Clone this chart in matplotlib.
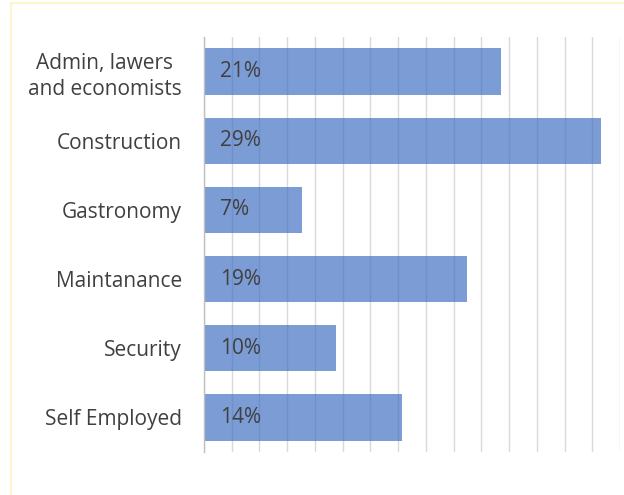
import matplotlib.pyplot as plt
from matplotlib.lines import Line2D

# share of respondents per sector (in %)
sectors = [
    "Admin, lawers\nand economists",
    "Construction",
    "Gastronomy",
    "Maintanance",
    "Security",
    "Self Employed",
]
shares = [21.4, 28.6, 7.1, 19.0, 9.5, 14.3]

plt.rcParams["font.family"] = ["Open Sans", "DejaVu Sans"]

fig = plt.figure(figsize=(6.24, 4.95), dpi=100)
ax = fig.add_axes([204 / 624, 43 / 495, 416 / 624, 415 / 495])

pos = list(range(len(sectors)))
ax.barh(pos, shares, height=0.67, color="#4472C4", alpha=0.7, zorder=2)

for p, v in zip(pos, shares):
    ax.annotate(f"{v:.0f}%", xy=(0, p), xytext=(11.5, 0), textcoords="offset points",
                ha="left", va="center", fontsize=15, color="#404040", zorder=3)

ax.set_xlim(0, 30)
ax.set_ylim(len(sectors) - 0.5, -0.5)
ax.set_xticks(range(0, 31, 2))
ax.set_xticklabels([])
ax.set_yticks(pos)
ax.set_yticklabels(sectors, fontsize=15, color="#404040", multialignment="center",
                   linespacing=1.3)
ax.tick_params(axis="both", length=0)
ax.tick_params(axis="y", pad=16)

ax.grid(axis="x", color="#D9D9D9", linewidth=1, zorder=0)
ax.set_axisbelow(True)
for s in ["top", "right", "bottom"]:
    ax.spines[s].set_visible(False)
ax.spines["left"].set_color("#BFBFBF")
ax.spines["left"].set_linewidth(1)

# faint frame along the top and left edge
fig.add_artist(Line2D([10.5 / 624, 1], [492.5 / 495, 492.5 / 495],
                      transform=fig.transFigure, color="#FFF2CC", linewidth=1.5))
fig.add_artist(Line2D([10.5 / 624, 10.5 / 624], [0, 492.5 / 495],
                      transform=fig.transFigure, color="#FFF2CC", linewidth=1.5))

fig.savefig("out.png", dpi=100)
